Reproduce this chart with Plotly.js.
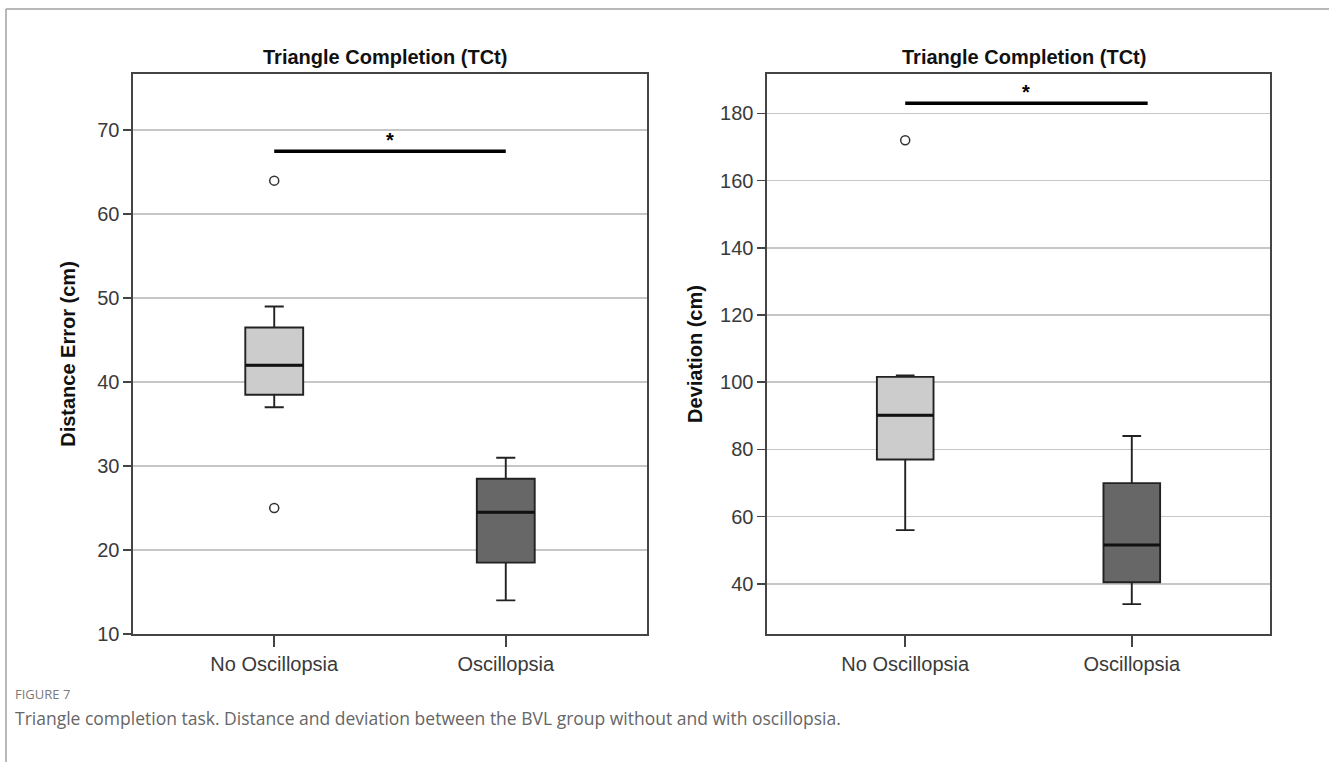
<!DOCTYPE html>
<html>
<head>
<meta charset="utf-8">
<script src="https://cdn.plot.ly/plotly-3.0.1.min.js"></script>
<style>
  html, body { margin: 0; padding: 0; background: #ffffff; }
  #chart { width: 1329px; height: 762px; }
</style>
</head>
<body>
<div id="chart"></div>
<script>
// ---- Data ----
const categories = ['No Oscillopsia', 'Oscillopsia'];

// Left panel: Distance Error (cm)
const distQ1     = [38.5, 18.5];
const distMedian = [42.0, 24.5];
const distQ3     = [46.5, 28.5];
const distLower  = [37.0, 14.0];
const distUpper  = [49.0, 31.0];
const distOutlierX = ['No Oscillopsia', 'No Oscillopsia'];
const distOutlierY = [64, 25];
const distSigY = 67.5;
const distSigX = [0, 1.0];

// Right panel: Deviation (cm)
const devQ1     = [77.0, 40.5];
const devMedian = [90.2, 51.6];
const devQ3     = [101.6, 70.0];
const devLower  = [56.0, 34.0];
const devUpper  = [102.0, 84.0];
const devOutlierX = ['No Oscillopsia'];
const devOutlierY = [172];
const devSigY = 183;
const devSigX = [0, 1.07];

const fills = ['#cccccc', '#676767'];
const panelTitle = 'Triangle Completion (TCt)';
const yTitles = ['Distance Error (cm)', 'Deviation (cm)'];
const leftTicks = [10, 20, 30, 40, 50, 60, 70];
const rightTicks = [40, 60, 80, 100, 120, 140, 160, 180];
const captionLabel = 'FIGURE 7';
const captionText = 'Triangle completion task. Distance and deviation between the BVL group without and with oscillopsia.';

// ---- Build traces ----
const BOXW = 0.25;
const traces = [];
function addBoxes(q1, med, q3, lo, hi, xa, ya) {
  categories.forEach((c, i) => {
    traces.push({
      type: 'box', x: [c], q1: [q1[i]], median: [med[i]], q3: [q3[i]],
      lowerfence: [lo[i]], upperfence: [hi[i]],
      xaxis: xa, yaxis: ya, width: BOXW, whiskerwidth: 0.33,
      fillcolor: fills[i], line: { color: '#222222', width: 1.9 },
      boxpoints: false, showlegend: false, hoverinfo: 'skip'
    });
  });
}
addBoxes(distQ1, distMedian, distQ3, distLower, distUpper, 'x', 'y');
addBoxes(devQ1, devMedian, devQ3, devLower, devUpper, 'x2', 'y2');

function addOutliers(xs, ys, xa, ya) {
  traces.push({
    type: 'scatter', mode: 'markers', x: xs, y: ys, xaxis: xa, yaxis: ya,
    marker: { symbol: 'circle-open', size: 9, color: '#333333', line: { width: 1.5, color: '#333333' } },
    showlegend: false, hoverinfo: 'skip'
  });
}
addOutliers(distOutlierX, distOutlierY, 'x', 'y');
addOutliers(devOutlierX, devOutlierY, 'x2', 'y2');

// ---- Shapes: thick medians, significance bars, frame ----
const shapes = [];
function medians(med, xr, yr) {
  med.forEach((m, i) => shapes.push({
    type: 'line', xref: xr, yref: yr, x0: i - BOXW / 2, x1: i + BOXW / 2, y0: m, y1: m,
    line: { color: '#111111', width: 3 }
  }));
}
medians(distMedian, 'x', 'y');
medians(devMedian, 'x2', 'y2');

shapes.push({ type: 'line', xref: 'x', yref: 'y', x0: distSigX[0], x1: distSigX[1], y0: distSigY, y1: distSigY, line: { color: '#000', width: 3.5 } });
shapes.push({ type: 'line', xref: 'x2', yref: 'y2', x0: devSigX[0], x1: devSigX[1], y0: devSigY, y1: devSigY, line: { color: '#000', width: 3.5 } });

// figure frame (top & left)
shapes.push({ type: 'line', xref: 'paper', yref: 'paper', x0: 6 / 1329, x1: 1, y0: 1 - 9 / 762, y1: 1 - 9 / 762, line: { color: '#a0a0a0', width: 1.5 } });
shapes.push({ type: 'line', xref: 'paper', yref: 'paper', x0: 6 / 1329, x1: 6 / 1329, y0: 1 - 9 / 762, y1: 0, line: { color: '#a0a0a0', width: 1.5 } });

// ---- Annotations ----
const titleFont = { family: 'Liberation Sans, Arial, sans-serif', size: 20, color: '#111' };
const annotations = [
  { xref: 'x domain', yref: 'paper', x: 0.49, y: 1 - 57 / 762, text: '<b>' + panelTitle + '</b>', showarrow: false, font: titleFont, xanchor: 'center', yanchor: 'middle' },
  { xref: 'x2 domain', yref: 'paper', x: 0.51, y: 1 - 57 / 762, text: '<b>' + panelTitle + '</b>', showarrow: false, font: titleFont, xanchor: 'center', yanchor: 'middle' },
  { xref: 'x', yref: 'y', x: (distSigX[0] + distSigX[1]) / 2, y: distSigY, text: '<b>*</b>', showarrow: false, yanchor: 'bottom', yshift: -2, font: { family: 'Liberation Sans, Arial', size: 20, color: '#000' } },
  { xref: 'x2', yref: 'y2', x: (devSigX[0] + devSigX[1]) / 2, y: devSigY, text: '<b>*</b>', showarrow: false, yanchor: 'bottom', yshift: -2, font: { family: 'Liberation Sans, Arial', size: 20, color: '#000' } },
  { xref: 'paper', yref: 'paper', x: 13 / 1329, y: 1 - 694 / 762, text: captionLabel, showarrow: false, xanchor: 'left', yanchor: 'middle', font: { family: 'Open Sans, sans-serif', size: 13, color: '#7a7a7a' } },
  { xref: 'paper', yref: 'paper', x: 13 / 1329, y: 1 - 718 / 762, text: captionText, showarrow: false, xanchor: 'left', yanchor: 'middle', font: { family: 'Open Sans, sans-serif', size: 17.5, color: '#666666' } }
];

// ---- Axes ----
const tickFont = { family: 'Liberation Sans, Arial, sans-serif', size: 20, color: '#3a3a3a' };
const axTitleFont = { family: 'Liberation Sans, Arial, sans-serif', size: 20, color: '#111' };
const yDom = [1 - 634 / 762, 1 - 74 / 762];
function xaxis(dom) {
  return {
    domain: dom, type: 'category', categoryorder: 'array', categoryarray: categories,
    range: [-0.61, 1.61], showline: true, mirror: true, linecolor: '#444', linewidth: 1.6,
    ticks: 'outside', ticklen: 11, tickwidth: 1.6, tickcolor: '#444', showgrid: false,
    tickfont: tickFont, fixedrange: true, zeroline: false
  };
}
function yaxis(range, tv, anchor, title, standoff) {
  return {
    domain: yDom, anchor: anchor, range: range, tickmode: 'array', tickvals: tv, ticktext: tv.map(String),
    showline: true, mirror: true, linecolor: '#444', linewidth: 1.6,
    ticks: 'outside', ticklen: 8, tickwidth: 1.6, tickcolor: '#444',
    showgrid: true, gridcolor: '#c6c6c6', gridwidth: 1.6, zeroline: false,
    tickfont: tickFont, fixedrange: true,
    title: { text: '<b>' + title + '</b>', font: axTitleFont, standoff: standoff }
  };
}

const layout = {
  width: 1329, height: 762,
  margin: { l: 0, r: 0, t: 0, b: 0 },
  paper_bgcolor: '#ffffff', plot_bgcolor: '#ffffff',
  showlegend: false,
  xaxis: Object.assign(xaxis([133 / 1329, 647 / 1329]), { anchor: 'y' }),
  yaxis: yaxis([10, 76.7], leftTicks, 'x', yTitles[0], 16),
  xaxis2: Object.assign(xaxis([767 / 1329, 1270 / 1329]), { anchor: 'y2' }),
  yaxis2: yaxis([25.1, 191.7], rightTicks, 'x2', yTitles[1], 12),
  shapes: shapes,
  annotations: annotations
};

Plotly.newPlot('chart', traces, layout, { displayModeBar: false, staticPlot: true });
</script>
</body>
</html>
